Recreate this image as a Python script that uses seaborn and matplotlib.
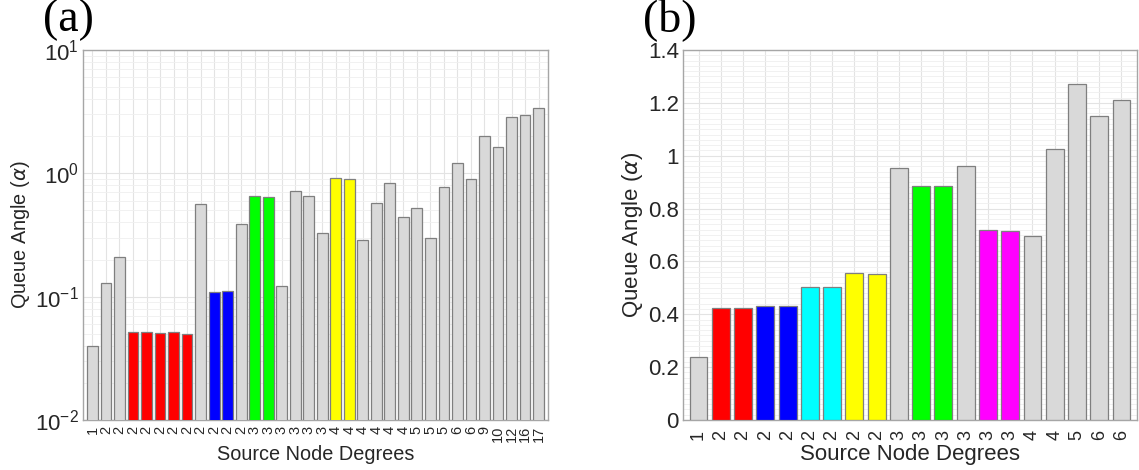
import numpy as np
import pandas as pd
import matplotlib
matplotlib.use("Agg")
import matplotlib.pyplot as plt
import seaborn as sns
from matplotlib.ticker import LogLocator, MultipleLocator, NullFormatter, FuncFormatter

# panel (a): queue angle per source node, log scale
degrees_a = [1, 2, 2, 2, 2, 2, 2, 2, 2, 2, 2, 2, 3, 3, 3, 3, 3, 3,
             4, 4, 4, 4, 4, 4, 5, 5, 5, 6, 6, 9, 10, 12, 16, 17]
alpha_a = [0.040, 0.130, 0.210, 0.052, 0.052, 0.051, 0.052, 0.050, 0.560,
           0.110, 0.111, 0.385, 0.655, 0.645, 0.122, 0.720, 0.650, 0.330,
           0.910, 0.905, 0.290, 0.580, 0.840, 0.445, 0.520, 0.300, 0.780,
           1.220, 0.900, 2.000, 1.620, 2.850, 2.950, 3.400]
group_a = ["g", "g", "g", "r", "r", "r", "r", "r", "g", "b", "b", "g",
           "gr", "gr", "g", "g", "g", "g", "y", "y", "g", "g", "g", "g",
           "g", "g", "g", "g", "g", "g", "g", "g", "g", "g"]

# panel (b): linear scale
degrees_b = [1, 2, 2, 2, 2, 2, 2, 2, 2, 3, 3, 3, 3, 3, 3, 4, 4, 5, 6, 6]
alpha_b = [0.240, 0.425, 0.424, 0.430, 0.430, 0.505, 0.503, 0.555, 0.554,
           0.953, 0.886, 0.884, 0.960, 0.720, 0.715, 0.695, 1.027, 1.270,
           1.152, 1.210]
group_b = ["g", "r", "r", "b", "b", "c", "c", "y", "y", "g", "gr", "gr",
           "g", "m", "m", "g", "g", "g", "g", "g"]

colors = {"g": "#d9d9d9", "r": "#ff0000", "b": "#0000ff", "gr": "#00ff00",
          "y": "#ffff00", "c": "#00ffff", "m": "#ff00ff"}

sns.set_style("white")
plt.rcParams["font.family"] = ["Liberation Sans", "DejaVu Sans"]
txt = "#262626"

fig = plt.figure(figsize=(11.39, 4.70), dpi=100)
ax1 = fig.add_axes([83 / 1139, 1 - 420 / 470, 465 / 1139, 370 / 470])
ax2 = fig.add_axes([683 / 1139, 1 - 420 / 470, 454 / 1139, 370 / 470])


def draw(ax, degrees, vals, groups, tick_size, lab_size, tpad, xpad):
    df = pd.DataFrame({"pos": np.arange(len(vals)), "val": vals, "grp": groups})
    pal = [colors[g] for g in groups]
    sns.barplot(data=df, x="pos", y="val", hue="pos", palette=pal, legend=False,
                width=0.8, saturation=1, edgecolor="#7f7f7f", linewidth=0.9,
                ax=ax, zorder=3)
    ax.set_xticks(range(len(degrees)))
    ax.set_xticklabels([str(d) for d in degrees], rotation=90, fontsize=tick_size,
                       color=txt)
    ax.set_xlim(-0.7, len(vals) - 0.3)
    ax.set_xlabel("Source Node Degrees", fontsize=lab_size, color=txt, labelpad=xpad)
    ax.set_ylabel(r"Queue Angle ($\alpha$)", fontsize=lab_size, color=txt, labelpad=2)
    ax.tick_params(axis="y", labelsize=16, labelcolor=txt, length=0, pad=3)
    ax.tick_params(axis="x", length=0, pad=tpad)
    ax.grid(True, which="major", color="#e3e3e3", linewidth=0.8, zorder=0)
    ax.grid(True, which="minor", axis="y", color="#efefef", linewidth=0.6, zorder=0)
    ax.set_axisbelow(True)
    for s in ax.spines.values():
        s.set_color("#a6a6a6")
        s.set_linewidth(1.0)


draw(ax1, degrees_a, alpha_a, group_a, 10.5, 14.3, 4, 2)
ax1.set_yscale("log")
ax1.set_ylim(1e-2, 1e1)
ax1.yaxis.set_major_locator(LogLocator(base=10, numticks=10))
ax1.yaxis.set_minor_locator(LogLocator(base=10, subs=np.arange(2, 10), numticks=20))
ax1.yaxis.set_minor_formatter(NullFormatter())
ax1.tick_params(axis="y", which="minor", length=0)

draw(ax2, degrees_b, alpha_b, group_b, 13, 16, 7, 3)
ax2.set_ylim(0, 1.4)
ax2.yaxis.set_major_locator(MultipleLocator(0.2))
ax2.yaxis.set_minor_locator(MultipleLocator(0.02))
ax2.yaxis.set_major_formatter(FuncFormatter(lambda v, p: f"{v:.1f}".rstrip("0").rstrip(".") if abs(v) > 1e-9 else "0"))
ax2.tick_params(axis="y", which="minor", length=0)

fig.text(43 / 1139, 1 - 31 / 470, "(a)", family=["Liberation Serif"], fontsize=33,
         va="baseline", ha="left", color="black")
fig.text(643 / 1139, 1 - 31 / 470, "(b)", family=["Liberation Serif"], fontsize=33,
         va="baseline", ha="left", color="black")

fig.savefig("out.png", dpi=100)
